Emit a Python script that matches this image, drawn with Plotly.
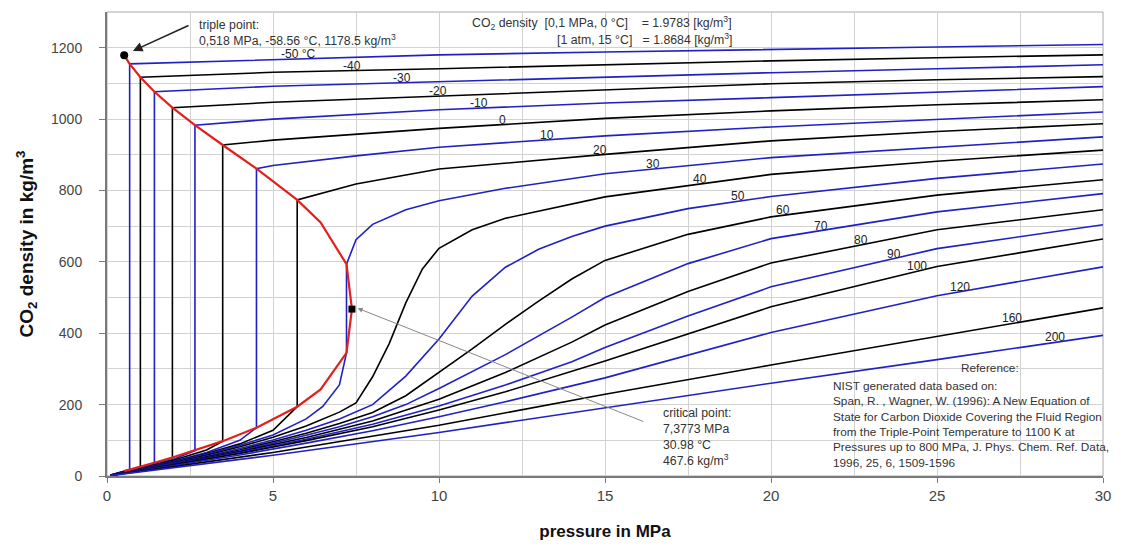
import plotly.graph_objects as go
import numpy as np

# ---------------- data ----------------
temps = [-50, -40, -30, -20, -10, 0, 10, 20, 30, 40, 50, 60, 70, 80, 90, 100, 120, 160, 200]
labels = ["-50 °C", "-40", "-30", "-20", "-10", "0", "10", "20", "30", "40",
          "50", "60", "70", "80", "90", "100", "120", "160", "200"]
label_pressure = [5.75, 7.38, 8.9, 9.97, 11.2, 11.9, 13.25, 14.85, 16.45, 17.86,
                  19.0, 20.36, 21.5, 22.7, 23.7, 24.4, 25.7, 27.25, 28.55]

p_m50 = [0.1, 0.682, 0.682, 5, 10, 15, 20, 25, 30]
rho_m50 = [2.4, 18.0, 1154.6, 1167, 1180, 1188, 1194, 1202, 1209]
p_m40 = [0.1, 0.5, 1.005, 1.005, 5, 10, 15, 20, 25, 30]
rho_m40 = [2.3, 12.0, 26.1, 1117.2, 1131, 1141, 1153, 1163, 1172, 1180]
p_m30 = [0.1, 1.0, 1.428, 1.428, 5, 10, 15, 20, 25, 30]
rho_m30 = [2.2, 24.3, 37.0, 1076.7, 1092, 1105, 1118, 1130, 1141, 1152]
p_m20 = [0.1, 1.0, 1.97, 1.97, 5, 10, 15, 20, 25, 30]
rho_m20 = [2.1, 22.6, 51.7, 1032.0, 1047, 1065, 1083, 1099, 1110, 1119]
p_m10 = [0.1, 1.0, 2.0, 2.649, 2.649, 5, 10, 15, 20, 25, 30]
rho_m10 = [2.0, 21.8, 47.0, 71.1, 982.9, 1000, 1026, 1045, 1060, 1076, 1091]
p_0 = [0.1, 1, 2, 3, 3.485, 3.485, 5, 10, 15, 20, 25, 30]
rho_0 = [1.94, 20.6, 44, 73, 97.6, 927.4, 941, 974, 1002, 1023, 1040, 1054]
p_10 = [0.1, 1, 2, 3, 4, 4.502, 4.502, 5, 7.5, 10, 15, 20, 25, 30]
rho_10 = [1.88, 19.7, 41.5, 66, 100, 135.2, 861.1, 870, 897, 921, 953, 978, 1000, 1020]
p_20 = [0.1, 1, 2, 3, 4, 5, 5.729, 5.729, 7.5, 10, 15, 20, 25, 30]
rho_20 = [1.81, 19.0, 40, 63, 90, 128, 194.2, 773.4, 818, 860, 901, 939, 965, 987]
p_30 = [0.1, 1, 2, 3, 4, 5, 6, 6.5, 7, 7.214, 7.214, 7.5, 8, 9, 10, 12, 15, 20, 25, 30]
rho_30 = [1.75, 18.3, 38.5, 61, 86, 115, 160, 195, 255, 345.1, 593.3, 662, 705, 746, 771, 806, 847, 892, 922, 950]
p_40 = [0.1, 1, 2, 3, 4, 5, 6, 7, 7.5, 8, 8.5, 9, 9.5, 10, 11, 12, 15, 20, 25, 30]
rho_40 = [1.69, 17.8, 37.1, 58.3, 81.7, 108.4, 139.9, 178.9, 205, 278, 371, 485, 580, 638, 690, 722, 782, 845, 882, 913]
p_50 = [0.1, 1, 2, 3, 4, 5, 6, 7, 8, 9, 10, 11, 12, 13, 14, 15, 17.5, 20, 25, 30]
rho_50 = [1.64, 17.3, 35.7, 55.4, 77, 101, 128, 160, 200, 280, 384, 504, 585, 635, 671, 700, 749, 783, 834, 874]
p_60 = [0.1, 1, 2, 3, 4, 5, 6, 7, 8, 9, 10, 11, 12, 13, 14, 15, 17.5, 20, 25, 30]
rho_60 = [1.59, 16.8, 34.5, 53, 73, 96, 120, 147, 178, 225, 290, 356, 425, 490, 552, 604, 677, 726, 787, 830]
p_70 = [0.1, 1, 2, 3, 4, 5, 6, 7, 8, 9, 10, 12, 14, 15, 17.5, 20, 25, 30]
rho_70 = [1.54, 16.3, 33.4, 51, 70, 91, 114, 138, 166, 200, 245, 340, 445, 500, 595, 665, 740, 791]
p_80 = [0.1, 2, 4, 6, 8, 10, 12, 14, 15, 17.5, 20, 25, 30]
rho_80 = [1.5, 32.3, 68, 108, 154, 215, 290, 375, 423, 517, 597, 690, 746]
p_90 = [0.1, 2, 4, 6, 8, 10, 12, 14, 15, 17.5, 20, 25, 30]
rho_90 = [1.46, 31.3, 65.5, 103, 145, 196, 255, 320, 360, 448, 530, 637, 704]
p_100 = [0.1, 2, 4, 6, 8, 10, 12, 15, 17.5, 20, 25, 30]
rho_100 = [1.42, 30.4, 63, 99, 138, 185, 236, 322, 397, 474, 587, 664]
p_120 = [0.1, 2, 4, 6, 8, 10, 12, 15, 20, 25, 30]
rho_120 = [1.35, 28.6, 59, 92, 127, 166, 208, 275, 402, 505, 586]
p_160 = [0.1, 5, 10, 15, 20, 25, 30]
rho_160 = [1.22, 66, 142, 229, 311, 392, 471]
p_200 = [0.1, 5, 10, 15, 20, 25, 30]
rho_200 = [1.12, 58, 122, 191, 260, 326, 394]

# saturation curve (liquid side up to critical point, then vapour side)
sat_p = [0.518, 0.682, 1.005, 1.428, 1.97, 2.649, 3.485, 4.502, 5.729, 6.434, 7.214, 7.3773,
         7.214, 6.434, 5.729, 4.502, 3.485, 2.649, 1.97, 1.428, 1.005, 0.682, 0.518]
sat_rho = [1178.5, 1154.6, 1117.2, 1076.7, 1032.0, 982.9, 927.4, 861.1, 773.4, 710.5, 593.3, 467.6,
           345.1, 242.7, 194.2, 135.2, 97.6, 71.1, 51.7, 37.0, 26.1, 18.0, 13.8]

triple_p, triple_rho = [0.518], [1178.5]
crit_p, crit_rho = [7.3773], [467.6]

iso_p = [p_m50, p_m40, p_m30, p_m20, p_m10, p_0, p_10, p_20, p_30, p_40,
         p_50, p_60, p_70, p_80, p_90, p_100, p_120, p_160, p_200]
iso_rho = [rho_m50, rho_m40, rho_m30, rho_m20, rho_m10, rho_0, rho_10, rho_20, rho_30, rho_40,
           rho_50, rho_60, rho_70, rho_80, rho_90, rho_100, rho_120, rho_160, rho_200]

# ---------------- figure ----------------
BLUE = "#2020c4"
BLACK = "#000000"
RED = "#e3201c"
FONT = "Arial, Liberation Sans, sans-serif"

fig = go.Figure()
for i, (pp, rr) in enumerate(zip(iso_p, iso_rho)):
    fig.add_trace(go.Scatter(x=pp, y=rr, mode="lines",
                             line=dict(color=BLUE if i % 2 == 0 else BLACK, width=1.6),
                             name=f"{temps[i]} °C", hoverinfo="skip"))

fig.add_trace(go.Scatter(x=sat_p, y=sat_rho, mode="lines",
                         line=dict(color=RED, width=2.2), name="saturation"))
fig.add_trace(go.Scatter(x=triple_p, y=triple_rho, mode="markers",
                         marker=dict(color="black", size=8, symbol="circle"), name="triple point"))
fig.add_trace(go.Scatter(x=crit_p, y=crit_rho, mode="markers",
                         marker=dict(color="black", size=7, symbol="square"), name="critical point"))

annotations = []
for i, lab in enumerate(labels):
    yv = float(np.interp(label_pressure[i], iso_p[i], iso_rho[i]))
    annotations.append(dict(x=label_pressure[i], y=yv, text=lab, showarrow=False,
                            xanchor="center", yanchor="middle", yshift=5,
                            font=dict(size=12, color="#222222", family=FONT)))

NB = "\u00a0"
txt_font = dict(size=12.3, color="#333333", family=FONT)
ref_font = dict(size=11.8, color="#333333", family=FONT)
# triple point
annotations.append(dict(x=0.78, y=1191, ax=2.5, ay=1264, axref="x", ayref="y",
                        xref="x", yref="y", text="", showarrow=True,
                        arrowhead=2, arrowsize=1.2, arrowwidth=1.6, arrowcolor="#222222"))
annotations.append(dict(x=2.71, y=1289, xref="x", yref="y", text="triple point:<br>0,518 MPa, -58.56 °C, 1178.5 kg/m<sup>3</sup>",
                        showarrow=False, xanchor="left", yanchor="top", align="left", font=txt_font))
# critical point
annotations.append(dict(x=7.55, y=470, ax=16.2, ay=151, axref="x", ayref="y",
                        xref="x", yref="y", text="", showarrow=True,
                        arrowhead=2, arrowsize=1, arrowwidth=1, arrowcolor="#888888"))
annotations.append(dict(x=16.7, y=203, xref="x", yref="y",
                        text="critical point:<br>7,3773 MPa<br>30.98 °C<br>467.6 kg/m<sup>3</sup>",
                        showarrow=False, xanchor="left", yanchor="top", align="left", font=txt_font))
# density note
annotations.append(dict(x=10.93, y=1270, xref="x", yref="y",
                        text=f"CO<sub>2</sub> density{NB}{NB}[0,1 MPa, 0 °C]{NB}{NB}{NB}{NB}= 1.9783 [kg/m<sup>3</sup>]",
                        showarrow=False, xanchor="left", yanchor="middle", font=txt_font))
annotations.append(dict(x=18.9, y=1223, xref="x", yref="y",
                        text=f"[1 atm, 15 °C]{NB}{NB}{NB}= 1.8684 [kg/m<sup>3</sup>]",
                        showarrow=False, xanchor="right", yanchor="middle", font=txt_font))
# reference
annotations.append(dict(x=26.6, y=303, xref="x", yref="y", text="Reference:",
                        showarrow=False, xanchor="center", yanchor="middle", font=ref_font))
annotations.append(dict(x=21.8, y=278, xref="x", yref="y",
                        text="NIST generated data based on:<br>"
                             "Span, R. , Wagner, W. (1996): A New Equation of<br>"
                             "State for Carbon Dioxide Covering the Fluid Region<br>"
                             "from the Triple-Point Temperature to 1100 K at<br>"
                             "Pressures up to 800 MPa, J. Phys. Chem. Ref. Data,<br>"
                             "1996, 25, 6, 1509-1596",
                        showarrow=False, xanchor="left", yanchor="top", align="left", font=ref_font))

# page body adds an 8 px offset; margins compensate so the plot area lands at 107..1103 / 12..476
fig.update_layout(
    width=1126, height=546,
    margin=dict(l=99, r=31, t=4, b=78),
    paper_bgcolor="white", plot_bgcolor="white",
    showlegend=False,
    font=dict(family=FONT, color="#333333"),
    annotations=annotations,
    shapes=[dict(type="rect", xref="paper", yref="paper", x0=0, y0=0, x1=1, y1=1,
                 line=dict(color="#a8a8a8", width=1), layer="below")],
)
fig.update_xaxes(range=[0, 30], dtick=5, tick0=0, showgrid=True, gridcolor="#d2d2d2", gridwidth=1,
                 minor=dict(dtick=2.5, showgrid=True, gridcolor="#d2d2d2", gridwidth=1),
                 showline=True, linecolor="#7a7a7a", linewidth=2, ticks="outside", ticklen=5,
                 tickcolor="#7a7a7a", zeroline=False, automargin=False,
                 tickfont=dict(size=15, color="#444444", family=FONT),
                 title=dict(text="<b>pressure in MPa</b>", font=dict(size=17, color="#111111", family=FONT),
                            standoff=22))
fig.update_yaxes(range=[0, 1300], dtick=200, tick0=0, showgrid=True, gridcolor="#d2d2d2", gridwidth=1,
                 minor=dict(dtick=100, showgrid=True, gridcolor="#d2d2d2", gridwidth=1),
                 showline=True, linecolor="#7a7a7a", linewidth=2, ticks="outside", ticklen=6,
                 tickcolor="#7a7a7a", zeroline=False, automargin=False, ticklabelstandoff=14,
                 tickfont=dict(size=14, color="#444444", family=FONT),
                 title=dict(text="<b>CO<sub>2</sub> density in kg/m<sup>3</sup></b>",
                            font=dict(size=19, color="#111111", family=FONT), standoff=12))

fig.write_html("out.html")
